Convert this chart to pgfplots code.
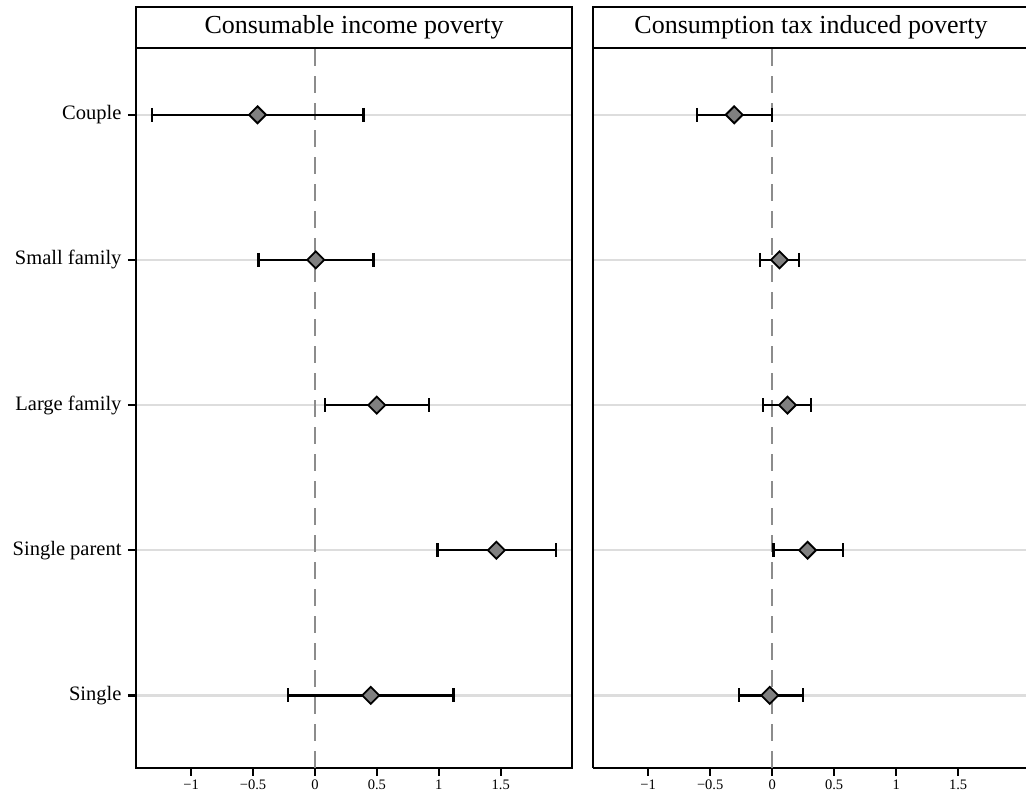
\documentclass[border=0pt]{standalone}
\usepackage{pgfplots}
\pgfplotsset{compat=1.18}
\usepackage{fontspec}
\setmainfont{Liberation Serif}
\definecolor{gridc}{HTML}{DDDDDD}
\definecolor{zeroc}{HTML}{8C8C8C}
\definecolor{markc}{HTML}{808080}

\pgfplotsset{
  panel/.style={
    anchor=south west, scale only axis, height=720pt,
    ymin=0.5, ymax=5.46,
    xtick={-1,-0.5,0,0.5,1,1.5},
    xticklabels={−1,−0.5,0,0.5,1,1.5},
    ytick={1,2,3,4,5},
    ymajorgrids, major grid style={gridc, line width=2.4pt},
    axis line style={line width=2.4pt, black},
    tick style={line width=2.4pt, black},
    major tick length=8pt, tick align=outside,
    xtick pos=bottom, ytick pos=left,
    xticklabel style={font=\fontsize{14.5}{16}\selectfont},
    yticklabel style={font=\fontsize{20.5}{24}\selectfont, xshift=-3pt},
    clip=false,
  },
  ci/.style={black, line width=2.4pt, mark=|, mark size=7pt, mark options={solid, line width=2.4pt}},
  est/.style={only marks, mark=square*, mark size=6pt, mark options={rotate=45, fill=markc, draw=black, line width=1.8pt}},
  zero/.style={zeroc, line width=2.4pt, dash pattern=on 17pt off 10pt},
}

\begin{document}
\begin{tikzpicture}[x=1pt,y=1pt]
\useasboundingbox (0,0) rectangle (1026,802);

% ---------- left panel ----------
\draw[line width=2.4pt] (136,754) rectangle (572,795);
\node[font=\fontsize{26}{30}\selectfont] at (354,774.5) {Consumable income poverty};

\begin{axis}[panel, at={(136pt,34pt)}, width=436pt,
  xmin=-1.445, xmax=2.075,
  yticklabels={Single, Single parent, Large family, Small family, Couple}]
  \addplot[zero] coordinates {(0,0.5) (0,5.46)};
  % Couple
  \addplot[ci] coordinates {(-1.316,5) (0.391,5)};
  % Small family
  \addplot[ci] coordinates {(-0.456,4) (0.472,4)};
  % Large family
  \addplot[ci] coordinates {(0.081,3) (0.922,3)};
  % Single parent
  \addplot[ci] coordinates {(0.990,2) (1.947,2)};
  % Single
  \addplot[ci] coordinates {(-0.216,1) (1.119,1)};
  \addplot[est] coordinates {(-0.464,5) (0.006,4) (0.499,3) (1.464,2) (0.450,1)};
\end{axis}

% ---------- right panel ----------
\draw[line width=2.4pt] (1030,795) -- (593,795) -- (593,754);
\node[font=\fontsize{26}{30}\selectfont] at (811,774.5) {Consumption tax induced poverty};

\begin{axis}[panel, at={(593pt,34pt)}, width=433pt,
  xmin=-1.445, xmax=2.047,
  axis x line*=box, axis y line*=left,
  yticklabels={}, ytick style={draw=none}]
  \addplot[zero] coordinates {(0,0.5) (0,5.46)};
  \addplot[ci] coordinates {(-0.605,5) (0.0,5)};
  \addplot[ci] coordinates {(-0.097,4) (0.218,4)};
  \addplot[ci] coordinates {(-0.073,3) (0.315,3)};
  \addplot[ci] coordinates {(0.010,2) (0.570,2)};
  \addplot[ci] coordinates {(-0.270,1) (0.250,1)};
  \addplot[est] coordinates {(-0.306,5) (0.059,4) (0.123,3) (0.285,2) (-0.020,1)};
\end{axis}
\end{tikzpicture}
\end{document}
